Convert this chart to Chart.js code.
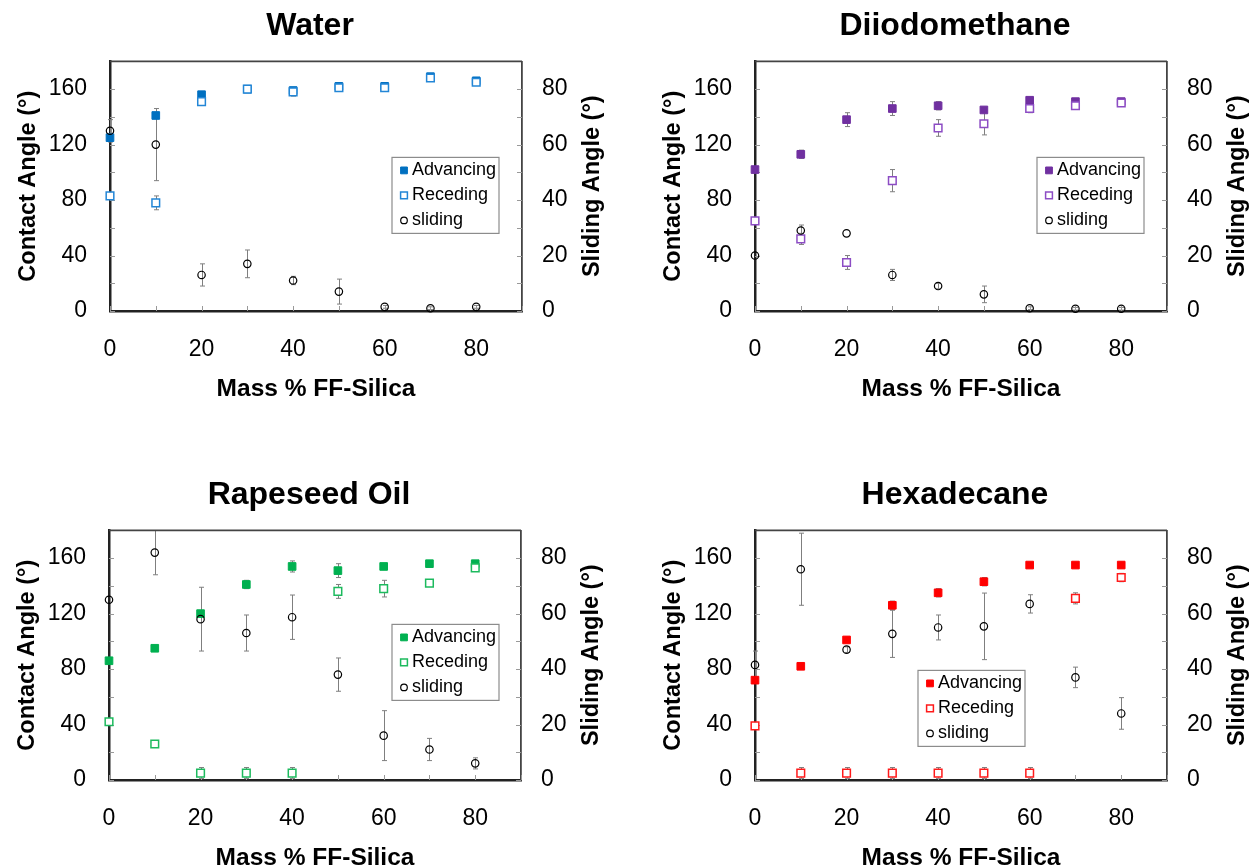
<!DOCTYPE html>
<html>
<head>
<meta charset="utf-8">
<script src="https://cdn.jsdelivr.net/npm/chart.js@4.4.1/dist/chart.umd.min.js"></script>
<style>
  html, body { margin: 0; padding: 0; background: #fff; overflow: hidden; }
  body { width: 1256px; height: 867px; position: relative; }
  .panel { position: absolute; width: 600px; height: 410px; }
</style>
</head>
<body>
<div class="panel" style="left:10px;top:0px"><canvas id="water" width="600" height="410"></canvas></div>
<div class="panel" style="left:655px;top:0px"><canvas id="diiodo" width="600" height="410"></canvas></div>
<div class="panel" style="left:9px;top:469px"><canvas id="rapeseed" width="600" height="410"></canvas></div>
<div class="panel" style="left:655px;top:469px"><canvas id="hexa" width="600" height="410"></canvas></div>
<script>
// shared axes
const massPct = [0, 10, 20, 30, 40, 50, 60, 70, 80]
const xTickLabels = [0, 20, 40, 60, 80]
const contactTickLabels = [0, 40, 80, 120, 160]
const slidingTickLabels = [0, 20, 40, 60, 80]
const seriesNames = ['Advancing', 'Receding', 'sliding']

// Water
const waterAdv      = [125, 141, 156, 160, 159, 162, 162, 169, 166]
const waterAdvErr   = [3, 2, 2, 0, 2, 0, 0, 1, 0]
const waterRec      = [83, 78, 151, 160, 158, 161, 161, 168, 165]
const waterRecErr   = [0, 5, 0, 0, 3, 0, 0, 0, 0]
const waterSlide    = [65, 60, 13, 17, 11, 7, 1.5, 1, 1.5]
const waterSlideErr = [4, 13, 4, 5, 1.5, 4.5, 0.5, 0.5, 0.5]

// Diiodomethane
const diiodoAdv      = [102, 113, 138, 146, 148, 145, 152, 151, 151]
const diiodoAdvErr   = [0, 3, 5, 5, 3, 0, 2, 0, 0]
const diiodoRec      = [65, 52, 35, 94, 132, 135, 146, 148, 150]
const diiodoRecErr   = [0, 4, 5, 8, 6, 8, 3, 1, 0]
const diiodoSlide    = [20, 29, 28, 13, 9, 6, 1, 0.8, 0.8]
const diiodoSlideErr = [0, 2, 0, 2, 1, 3, 0.5, 0.5, 0.5]

// Rapeseed oil
const rapeAdv      = [86, 95, 120, 141, 154, 151, 154, 156, 156]
const rapeAdvErr   = [0, 0, 0, 3, 4, 5, 0, 0, 0]
const rapeRec      = [42, 26, 5, 5, 5, 136, 138, 142, 153]
const rapeRecErr   = [0, 0, 4, 4, 4, 5, 6, 0, 0]
const rapeSlide    = [65, 82, 58, 53, 58.7, 38, 16, 11, 6]
const rapeSlideErr = [0, 8, 11.5, 6.5, 8, 6, 9, 4, 2]

// Hexadecane
const hexaAdv      = [72, 82, 101, 126, 135, 143, 155, 155, 155]
const hexaAdvErr   = [0, 1, 2, 3, 3, 3, 0, 0, 2]
const hexaRec      = [39, 5, 5, 5, 5, 5, 5, 131, 146]
const hexaRecErr   = [0, 4, 4, 4, 4, 4, 4, 4, 3]
const hexaSlide    = [41.5, 76, 47, 52.7, 55, 55.4, 63.5, 37, 24]
const hexaSlideErr = [5, 13, 1, 8.5, 4.5, 12, 3.3, 3.7, 5.7]

const FONT = '"Liberation Sans", Arial, Helvetica, sans-serif'
Chart.defaults.font.family = FONT
Chart.defaults.color = '#000'

const toPoints = ys => ys.map((y, i) => ({ x: massPct[i], y }))

// inward tick marks + top edge of the frame
const frameTicks = {
  id: 'frameTicks',
  beforeDatasetsDraw(chart) {
    const { ctx, chartArea: a, scales } = chart
    ctx.save()
    ctx.strokeStyle = '#999'
    ctx.lineWidth = 1
    ctx.beginPath()
    scales.x.ticks.forEach(t => {
      const px = Math.round(scales.x.getPixelForValue(t.value)) + 0.5
      ctx.moveTo(px, a.bottom); ctx.lineTo(px, a.bottom - 5)
    })
    scales.y.ticks.forEach(t => {
      const py = Math.round(scales.y.getPixelForValue(t.value)) + 0.5
      ctx.moveTo(a.left, py); ctx.lineTo(a.left + 5, py)
    })
    scales.y2.ticks.forEach(t => {
      const py = Math.round(scales.y2.getPixelForValue(t.value)) + 0.5
      ctx.moveTo(a.right, py); ctx.lineTo(a.right - 5, py)
    })
    ctx.stroke()
    ctx.strokeStyle = '#444'
    ctx.lineWidth = 1.8
    ctx.beginPath()
    ctx.moveTo(a.left, a.top); ctx.lineTo(a.right, a.top)
    ctx.stroke()
    ctx.restore()
  },
}

// vertical error bars from dataset.errors
const errorBars = {
  id: 'errorBars',
  beforeDatasetsDraw(chart) {
    const { ctx, chartArea: a } = chart
    ctx.save()
    ctx.beginPath()
    ctx.rect(a.left - 5, a.top, a.right - a.left + 10, a.bottom - a.top)
    ctx.clip()
    ctx.strokeStyle = '#7f7f7f'
    ctx.lineWidth = 1
    chart.data.datasets.forEach((ds, i) => {
      const meta = chart.getDatasetMeta(i)
      const xs = chart.scales[meta.xAxisID]
      const ys = chart.scales[meta.yAxisID]
      ds.errors.forEach((e, j) => {
        if (!e) return
        const p = ds.data[j]
        const px = Math.round(xs.getPixelForValue(p.x)) + 0.5
        const top = ys.getPixelForValue(p.y + e)
        const bot = ys.getPixelForValue(p.y - e)
        ctx.beginPath()
        ctx.moveTo(px, top); ctx.lineTo(px, bot)
        ctx.moveTo(px - 2.5, top); ctx.lineTo(px + 2.5, top)
        ctx.moveTo(px - 2.5, bot); ctx.lineTo(px + 2.5, bot)
        ctx.stroke()
      })
    })
    ctx.restore()
  },
}

// right axis title reads bottom-to-top, legend box inside the plot
const extras = {
  id: 'extras',
  afterDraw(chart, args, opts) {
    const { ctx, chartArea: a, scales } = chart
    ctx.save()
    ctx.font = 'bold 23.5px ' + FONT
    ctx.fillStyle = '#000'
    ctx.textAlign = 'center'
    ctx.textBaseline = 'middle'
    ctx.translate(scales.y2.right - 17, (a.top + a.bottom) / 2)
    ctx.rotate(-Math.PI / 2)
    ctx.fillText('Sliding Angle (°)', 0, 0)
    ctx.restore()

    const x0 = a.left + opts.left
    const y0 = a.top + opts.top
    ctx.save()
    ctx.fillStyle = '#fff'
    ctx.fillRect(x0, y0, 107, 76)
    ctx.strokeStyle = '#8c8c8c'
    ctx.lineWidth = 1.2
    ctx.strokeRect(x0, y0, 107, 76)
    ctx.font = '18px ' + FONT
    ctx.textBaseline = 'middle'
    chart.data.datasets.forEach((ds, i) => {
      const cy = y0 + 13 + i * 25
      const cx = x0 + 12
      ctx.fillStyle = ds.backgroundColor
      ctx.strokeStyle = ds.borderColor
      ctx.lineWidth = ds.borderWidth
      ctx.beginPath()
      if (ds.pointStyle === 'circle') ctx.arc(cx, cy, 3.3, 0, Math.PI * 2)
      else ctx.rect(cx - 3.4, cy - 3.4, 6.8, 6.8)
      ctx.fill()
      ctx.stroke()
      ctx.fillStyle = '#000'
      ctx.fillText(ds.label, x0 + 20, cy)
    })
    ctx.restore()
  },
}

function makePanel(id, title, advColor, recColor, adv, advErr, rec, recErr, slide, slideErr, legendAt) {
  new Chart(document.getElementById(id), {
    type: 'scatter',
    data: {
      datasets: [
        {
          label: seriesNames[0], data: toPoints(adv), errors: advErr,
          pointStyle: 'rect', pointRadius: 5.4, pointHoverRadius: 5.4,
          backgroundColor: advColor, borderColor: advColor, borderWidth: 1,
          yAxisID: 'y', order: 3, clip: false,
        },
        {
          label: seriesNames[1], data: toPoints(rec), errors: recErr,
          pointStyle: 'rect', pointRadius: 5.4, pointHoverRadius: 5.4,
          backgroundColor: '#fff', borderColor: recColor, borderWidth: 1.5,
          yAxisID: 'y', order: 2, clip: false,
        },
        {
          label: seriesNames[2], data: toPoints(slide), errors: slideErr,
          pointStyle: 'circle', pointRadius: 3.7, pointHoverRadius: 3.7,
          backgroundColor: 'rgba(0,0,0,0)', borderColor: '#000', borderWidth: 1.2,
          yAxisID: 'y2', order: 1, clip: false,
        },
      ],
    },
    options: {
      responsive: false,
      animation: false,
      layout: { padding: 0 },
      plugins: {
        legend: { display: false },
        tooltip: { enabled: false },
        title: {
          display: true, text: title, color: '#000',
          font: { size: 32, weight: 'bold' },
          padding: { top: 7, bottom: 16 },
        },
        extras: legendAt,
      },
      scales: {
        x: {
          type: 'linear', min: 0, max: 90,
          ticks: {
            stepSize: 10, padding: 17, autoSkip: false, maxRotation: 0,
            font: { size: 23 }, color: '#000',
            callback: v => xTickLabels.includes(v) ? String(v) : '',
          },
          grid: { display: false },
          border: { color: '#222', width: 2.5 },
          title: {
            display: true, text: 'Mass % FF-Silica', color: '#000',
            font: { size: 24.5, weight: 'bold' }, padding: { top: 0, bottom: 6 },
          },
          afterFit: s => { s.height = 99 },
        },
        y: {
          position: 'left', min: 0, max: 180,
          ticks: {
            stepSize: 20, padding: 15, autoSkip: false,
            font: { size: 23 }, color: '#000',
            callback: v => contactTickLabels.includes(v) ? String(v) : '',
          },
          grid: { display: false },
          border: { color: '#222', width: 2.5 },
          title: {
            display: true, text: 'Contact Angle (°)', color: '#000',
            font: { size: 23.5, weight: 'bold' }, padding: { top: 4, bottom: 0 },
          },
          afterFit: s => { s.width = 100 },
        },
        y2: {
          position: 'right', min: 0, max: 90,
          ticks: {
            stepSize: 10, padding: 12, autoSkip: false,
            font: { size: 23 }, color: '#000',
            callback: v => slidingTickLabels.includes(v) ? String(v) : '',
          },
          grid: { display: false },
          border: { color: '#444', width: 1.8 },
          afterFit: s => { s.width = 88 },
        },
      },
    },
    plugins: [errorBars, frameTicks, extras],
  })
}

makePanel('water', 'Water', '#0070C0', '#2386D6',
  waterAdv, waterAdvErr, waterRec, waterRecErr, waterSlide, waterSlideErr, { left: 282, top: 96 })
makePanel('diiodo', 'Diiodomethane', '#7030A0', '#8C4CC4',
  diiodoAdv, diiodoAdvErr, diiodoRec, diiodoRecErr, diiodoSlide, diiodoSlideErr, { left: 282, top: 96 })
makePanel('rapeseed', 'Rapeseed Oil', '#00B050', '#1DBA5E',
  rapeAdv, rapeAdvErr, rapeRec, rapeRecErr, rapeSlide, rapeSlideErr, { left: 283, top: 94 })
makePanel('hexa', 'Hexadecane', '#FF0000', '#FF1A1A',
  hexaAdv, hexaAdvErr, hexaRec, hexaRecErr, hexaSlide, hexaSlideErr, { left: 163, top: 140 })
</script>
</body>
</html>
